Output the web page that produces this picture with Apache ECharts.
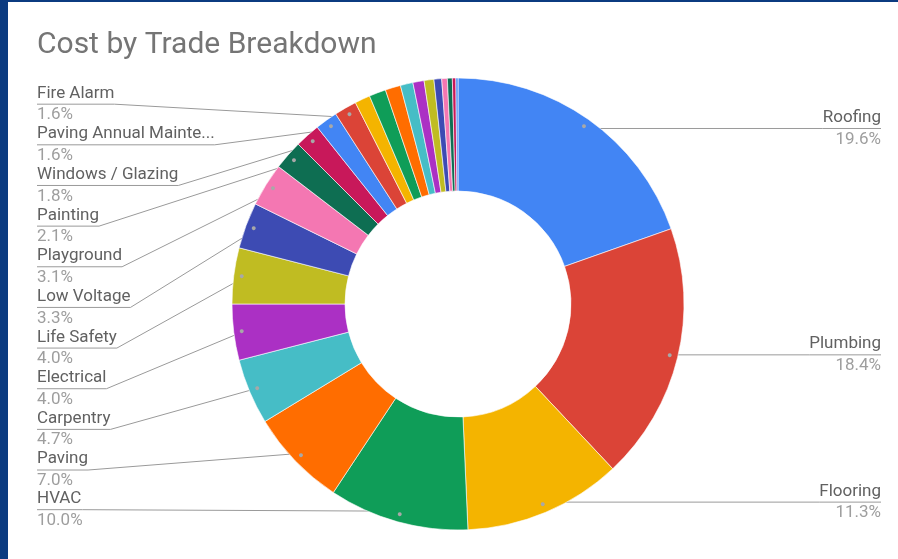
<!DOCTYPE html>
<html>
<head>
<meta charset="utf-8">
<script src="https://cdn.jsdelivr.net/npm/echarts@6/dist/echarts.min.js"></script>
<style>
html, body { margin: 0; padding: 0; background: #ffffff; overflow: hidden; }
#chart { position: absolute; left: 0; top: 0; width: 898px; height: 559px; }
.edge { position: absolute; background: #0b3b80; }
</style>
</head>
<body>
<div id="chart"></div>
<div class="edge" style="left:0;top:0;width:898px;height:2px"></div>
<div class="edge" style="left:0;top:0;width:8px;height:559px"></div>
<script>
// ---- data (clockwise from 12 o'clock) ----
const chartTitle = 'Cost by Trade Breakdown';
const trades = [
  'Roofing', 'Plumbing', 'Flooring', 'HVAC', 'Paving', 'Carpentry',
  'Electrical', 'Life Safety', 'Low Voltage', 'Playground', 'Painting',
  'Windows / Glazing', 'Paving Annual Maintenance', 'Fire Alarm'
];
const tradeShares = [19.6, 18.4, 11.3, 10.0, 7.0, 4.7, 4.0, 4.0, 3.3, 3.1, 2.1, 1.8, 1.6, 1.6];
// small unlabeled slices after Fire Alarm (labels hidden in the reference)
const minorTrades = ['Minor 1', 'Minor 2', 'Minor 3', 'Minor 4', 'Minor 5', 'Minor 6',
  'Minor 7', 'Minor 8', 'Minor 9', 'Minor 10', 'Minor 11'];
const minorShares = [1.1, 1.2, 1.1, 0.9, 0.8, 0.7, 0.55, 0.4, 0.35, 0.25, 0.15];
const palette = ['#4285f4', '#db4437', '#f4b400', '#0f9d58', '#ff6d00', '#46bdc6',
  '#ab30c4', '#c0bc22', '#3d4bb3', '#f477b2', '#0e6e52', '#c8185a'];

// ---- layout constants ----
const CX = 458, CY = 304, R_IN = 113, R_OUT = 226, R_DOT = 215;

const names = trades.concat(minorTrades);
const values = tradeShares.concat(minorShares);
const labeledCount = trades.length;

const mainData = names.map((n, i) => ({
  name: n,
  value: values[i],
  label: { show: i < labeledCount },
  labelLine: { show: i < labeledCount }
}));
const dotData = names.map((n, i) => ({
  name: n,
  value: values[i],
  label: { show: i < labeledCount }
}));

const chart = echarts.init(document.getElementById('chart'), null, { renderer: 'canvas' });
chart.setOption({
  animation: false,
  color: palette,
  title: {
    text: chartTitle,
    left: 37,
    top: 30,
    padding: 0,
    textStyle: { fontFamily: 'Roboto', fontSize: 30, fontWeight: 'normal', color: '#757575' }
  },
  series: [
    {
      type: 'pie',
      left: 0, top: 0, right: -20, bottom: 28,
      center: [CX, CY],
      radius: [R_IN, R_OUT],
      startAngle: 90,
      clockwise: true,
      avoidLabelOverlap: true,
      silent: true,
      itemStyle: { borderColor: '#ffffff', borderWidth: 0.6 },
      emphasis: { disabled: true },
      label: {
        show: true,
        position: 'outside',
        alignTo: 'edge',
        edgeDistance: 37,
        width: 185,
        overflow: 'truncate',
        ellipsis: '...',
        fontFamily: 'Roboto',
        formatter: p => '{n|' + p.name + '}\n{p|' + p.percent.toFixed(1) + '%}',
        rich: {
          n: { fontFamily: 'Roboto', fontSize: 17, lineHeight: 21.65, color: '#616161' },
          p: { fontFamily: 'Roboto', fontSize: 17, lineHeight: 21.65, color: '#9e9e9e' }
        }
      },
      labelLine: {
        show: true,
        length: R_DOT - R_OUT,
        length2: 0,
        lineStyle: { color: '#9a9a9a', width: 1 }
      },
      labelLayout: function (p) {
        const pts = p.labelLinePoints;
        if (!pts) return {};
        const r = p.labelRect;
        const yc = r.y + r.height / 2;
        const k = R_DOT / R_OUT;
        const dot = [CX + (pts[0][0] - CX) * k, CY + (pts[0][1] - CY) * k];
        const isLeft = r.x + r.width / 2 < CX;
        const near = isLeft ? r.x + r.width : r.x;
        const far = isLeft ? r.x : r.x + r.width;
        return { labelLinePoints: [dot, [near, yc], [far, yc]] };
      },
      data: mainData
    },
    {
      type: 'pie',
      left: 0, top: 0, right: -20, bottom: 28,
      center: [CX, CY],
      radius: [R_DOT - 11, R_OUT],
      startAngle: 90,
      clockwise: true,
      silent: true,
      z: 3,
      itemStyle: { color: 'rgba(0,0,0,0)', borderWidth: 0 },
      emphasis: { disabled: true },
      label: {
        show: true,
        position: 'inside',
        formatter: '\u25CF',
        fontSize: 9,
        color: '#a8a8a8',
        rotate: 0
      },
      labelLine: { show: false },
      data: dotData
    }
  ]
});
</script>
</body>
</html>
